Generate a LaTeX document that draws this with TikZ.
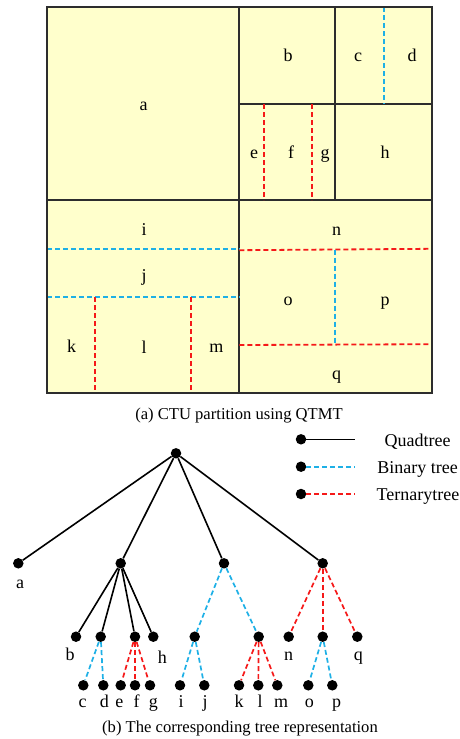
\documentclass[tikz,border=0pt]{standalone}
\usepackage{fontspec}
\setmainfont{Liberation Serif}
\definecolor{cfill}{RGB}{255,255,204}
\definecolor{cblue}{RGB}{30,176,230}
\definecolor{cred}{RGB}{245,25,25}
\definecolor{cedge}{RGB}{45,45,45}
\begin{document}
\begin{tikzpicture}[x=1pt,y=-1pt,
  ctuframe/.style={draw=cedge,line width=2pt,fill=cfill},
  solidln/.style={draw=cedge,line width=1.7pt},
  bdash/.style={draw=cblue,line width=1.8pt,dash pattern=on 5pt off 3pt},
  rdash/.style={draw=cred,line width=1.8pt,dash pattern=on 5pt off 3pt},
  qt/.style={draw=black,line width=1.6pt},
  bt/.style={draw=cblue,line width=1.7pt,dash pattern=on 5pt off 3pt},
  tt/.style={draw=cred,line width=1.7pt,dash pattern=on 5pt off 3pt},
  lbl/.style={font=\fontsize{18}{20}\selectfont,inner sep=0pt,anchor=base},
  captxt/.style={font=\fontsize{16.6}{19}\selectfont,inner sep=0pt,anchor=base},
  tdot/.style={circle,fill=black,inner sep=0pt,minimum size=10.5pt}]
\useasboundingbox (0,0) rectangle (460,739);
% ---------------- partition (a)
\path[ctuframe] (47,7) rectangle (432,393);
\draw[solidln] (239.3,7) -- (239.3,393);
\draw[solidln] (47,200) -- (432,200);
\draw[solidln] (335.3,7) -- (335.3,200);
\draw[solidln] (239.3,104) -- (432,104);
\draw[bdash] (384,7) -- (384,104);
\draw[rdash] (263.7,104) -- (263.7,200);
\draw[rdash] (311.7,104) -- (311.7,200);
\draw[bdash] (47,249.3) -- (239.3,249.3);
\draw[bdash] (47,297) -- (239.3,297);
\draw[rdash] (95.3,297) -- (95.3,393);
\draw[rdash] (191,297) -- (191,393);
\draw[rdash] (239.3,250.2) -- (432,248.8);
\draw[rdash] (239.3,345) -- (432,344.2);
\draw[bdash] (335.3,249.5) -- (335.3,344.6);
\path[draw=cedge,line width=2pt] (47,7) rectangle (432,393);
\node[lbl] (pa) at (143.7,110) {a};
\node[lbl] (pb) at (288,61.7) {b};
\node[lbl] (pc) at (358,61.7) {c};
\node[lbl] (pd) at (412,61.7) {d};
\node[lbl] (pe) at (254,158.3) {e};
\node[lbl] (pf) at (291,158.8) {f};
\node[lbl] (pg) at (325,158.3) {g};
\node[lbl] (ph) at (385,158.3) {h};
\node[lbl] (pi) at (144,235) {i};
\node[lbl] (pj) at (144,281) {j};
\node[lbl] (pk) at (71.7,352.7) {k};
\node[lbl] (pl) at (144,353) {l};
\node[lbl] (pm) at (216.3,352.7) {m};
\node[lbl] (pn) at (336.7,235) {n};
\node[lbl] (po) at (288,305) {o};
\node[lbl] (pp) at (385,305) {p};
\node[lbl] (pq) at (336.7,379) {q};
\node[captxt] (capa) at (239,419.5) {(a) CTU partition using QTMT};
% ---------------- legend
\node[tdot] (lq) at (301,439.3) {};
\node[tdot] (lb) at (301,466.7) {};
\node[tdot] (lt) at (301,494) {};
\coordinate (lqe) at (355,439.3);
\coordinate (lbe) at (355,466.7);
\coordinate (lte) at (355,494);
\draw[qt] (lq) -- (lqe);
\draw[bt] (lb) -- (lbe);
\draw[tt] (lt) -- (lte);
\node[lbl] (tq) at (417.5,446) {Quadtree};
\node[lbl] (tb) at (417.5,473.3) {Binary tree};
\node[lbl] (tt) at (418,500) {Ternarytree};
% ---------------- tree (b)
\node[tdot] (r) at (176,453.3) {};
\node[tdot] (na) at (18.3,563.3) {};
\node[tdot] (n1) at (120.7,563.3) {};
\node[tdot] (n2) at (224,563.3) {};
\node[tdot] (n3) at (322.7,563.3) {};
\node[tdot] (nb) at (76,636.7) {};
\node[tdot] (ncd) at (100.7,636.7) {};
\node[tdot] (nefg) at (135,636.7) {};
\node[tdot] (nh) at (153.3,636.7) {};
\node[tdot] (nij) at (194.7,636.7) {};
\node[tdot] (nklm) at (258.7,636.7) {};
\node[tdot] (nn) at (288.7,636.7) {};
\node[tdot] (nop) at (322.7,636.7) {};
\node[tdot] (nq) at (357.3,636.7) {};
\node[tdot] (nc) at (83.3,685.3) {};
\node[tdot] (nd) at (103.3,685.3) {};
\node[tdot] (ne) at (120.7,685.3) {};
\node[tdot] (nf) at (135,685.3) {};
\node[tdot] (ng) at (150,685.3) {};
\node[tdot] (ni) at (180,685.3) {};
\node[tdot] (nj) at (204.3,685.3) {};
\node[tdot] (nk) at (239,685.3) {};
\node[tdot] (nl) at (258.3,685.3) {};
\node[tdot] (nm) at (277.3,685.3) {};
\node[tdot] (no) at (308.3,685.3) {};
\node[tdot] (np) at (332.3,685.3) {};
\foreach \c in {na,n1,n2,n3} \draw[qt] (r) -- (\c);
\foreach \c in {nb,ncd,nefg,nh} \draw[qt] (n1) -- (\c);
\foreach \c in {nc,nd} \draw[bt] (ncd) -- (\c);
\foreach \c in {ne,nf,ng} \draw[tt] (nefg) -- (\c);
\foreach \c in {nij,nklm} \draw[bt] (n2) -- (\c);
\foreach \c in {ni,nj} \draw[bt] (nij) -- (\c);
\foreach \c in {nk,nl,nm} \draw[tt] (nklm) -- (\c);
\foreach \c in {nn,nop,nq} \draw[tt] (n3) -- (\c);
\foreach \c in {no,np} \draw[bt] (nop) -- (\c);
\node[lbl] (la) at (20,588.3) {a};
\node[lbl] (lbb) at (70,660) {b};
\node[lbl] (lh) at (162.3,663.3) {h};
\node[lbl] (ln) at (288.7,660) {n};
\node[lbl] (lqq) at (358.3,660) {q};
\node[lbl] (lc) at (82.7,707.7) {c};
\node[lbl] (ld) at (104.3,707.7) {d};
\node[lbl] (le) at (119.3,707.7) {e};
\node[lbl] (lf) at (136.7,707.7) {f};
\node[lbl] (lg) at (153.3,707.7) {g};
\node[lbl] (li) at (181,707.7) {i};
\node[lbl] (lj) at (205,707.7) {j};
\node[lbl] (lk) at (239,707.7) {k};
\node[lbl] (ll) at (260,707.7) {l};
\node[lbl] (lm) at (281,707.7) {m};
\node[lbl] (lo) at (309.3,707.7) {o};
\node[lbl] (lp) at (336.7,707.7) {p};
\node[captxt] (capb) at (240,732.7) {(b) The corresponding tree representation};
\end{tikzpicture}
\end{document}
